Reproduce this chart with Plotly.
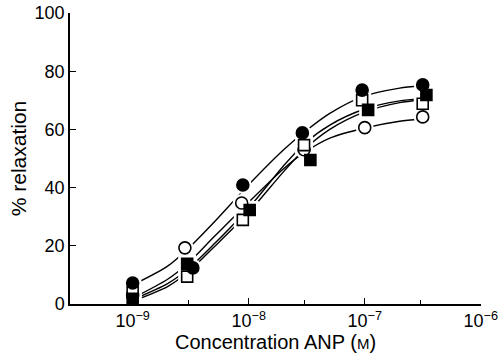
import plotly.graph_objects as go

conc_filled_circle = [1.0e-9, 3.3e-9, 8.9e-9, 2.9e-8, 9.5e-8, 3.16e-7]
relax_filled_circle = [7.2, 12.4, 40.9, 58.8, 73.5, 75.3]

conc_open_circle = [1.0e-9, 2.82e-9, 8.7e-9, 3.0e-8, 1.0e-7, 3.16e-7]
relax_open_circle = [3.0, 19.3, 34.7, 53.0, 60.6, 64.3]

conc_open_square = [1.0e-9, 2.95e-9, 8.9e-9, 3.0e-8, 9.5e-8, 3.16e-7]
relax_open_square = [4.0, 9.4, 28.9, 54.6, 70.0, 68.8]

conc_filled_square = [1.0e-9, 2.95e-9, 1.02e-8, 3.4e-8, 1.07e-7, 3.4e-7]
relax_filled_square = [1.8, 13.8, 32.3, 49.5, 66.7, 71.8]

# Fitted curves, values
curve_conc = [1e-9, 2e-9, 3e-9, 5e-9, 1e-8, 2e-8, 3e-8, 5e-8, 1e-7, 2e-7, 3e-7]
curve_filled_circle = [6.5, 13.0, 19.0, 28.0, 41.0, 53.0, 59.0, 65.5, 71.5, 74.2, 75.0]
curve_open_circle = [2.0, 8.5, 14.0, 23.0, 35.0, 46.5, 52.0, 57.0, 60.5, 62.8, 63.5]
curve_open_square = [1.5, 7.0, 12.0, 20.5, 33.0, 47.5, 55.0, 61.5, 67.0, 69.8, 70.5]
curve_filled_square = [1.0, 6.0, 11.0, 19.5, 31.5, 45.5, 53.0, 60.0, 66.0, 69.2, 70.0]

x_tick_vals = [1e-9, 1e-8, 1e-7, 1e-6]
x_tick_text = ["10<sup>\u22129</sup>", "10<sup>\u22128</sup>", "10<sup>\u22127</sup>", "10<sup>\u22126</sup>"]
x_minor_vals = [3e-9, 3e-8, 3e-7]
y_tick_vals = [0, 20, 40, 60, 80, 100]

series = [
    (conc_open_circle, relax_open_circle, curve_open_circle, "circle", "white"),
    (conc_open_square, relax_open_square, curve_open_square, "square", "white"),
    (conc_filled_square, relax_filled_square, curve_filled_square, "square", "black"),
    (conc_filled_circle, relax_filled_circle, curve_filled_circle, "circle", "black"),
]

FONT = "Liberation Sans, Arial, Helvetica, sans-serif"
fig = go.Figure()

for xs, ys, cy, sym, fill in series:
    fig.add_trace(go.Scatter(x=curve_conc, y=cy, mode="lines",
                             line=dict(color="black", width=1.4, shape="spline", smoothing=0.8),
                             hoverinfo="skip", showlegend=False))
for xs, ys, cy, sym, fill in series:
    fig.add_trace(go.Scatter(x=xs, y=ys, mode="markers",
                             marker=dict(symbol=sym, size=18, color="white", line=dict(width=0)),
                             hoverinfo="skip", showlegend=False))
for xs, ys, cy, sym, fill in series:
    fig.add_trace(go.Scatter(x=xs, y=ys, mode="markers",
                             marker=dict(symbol=sym, size=12 if sym == "circle" else 11,
                                         color=fill, line=dict(color="black", width=1.6)),
                             showlegend=False))

fig.update_layout(
    width=503, height=361,
    margin=dict(l=70, r=22, t=13, b=57),
    paper_bgcolor="white", plot_bgcolor="white",
    font=dict(family=FONT, color="black", size=17),
    showlegend=False,
)
fig.update_xaxes(
    type="log", range=[-9.54, -5.998], automargin=False,
    tickmode="array", tickvals=x_tick_vals, ticktext=x_tick_text,
    ticks="inside", ticklen=6, tickwidth=1.2, tickcolor="black",
    showline=True, linecolor="black", linewidth=1.5,
    showgrid=False, zeroline=False,
    tickfont=dict(size=18),
    minor=dict(tickvals=x_minor_vals, ticks="inside", ticklen=4, tickwidth=1.2,
               tickcolor="black", showgrid=False),
    title=dict(text="Concentration ANP (<span style='font-size:15px'>M</span>)",
               font=dict(size=20), standoff=3),
)
fig.update_yaxes(
    range=[0, 100], automargin=False, tickvals=y_tick_vals,
    ticks="inside", ticklen=6, tickwidth=1.2, tickcolor="black",
    showline=True, linecolor="black", linewidth=1.5,
    showgrid=False, zeroline=False,
    tickfont=dict(size=18),
    title=dict(text="% relaxation", font=dict(size=21), standoff=2),
)

fig.write_html("out.html",
               config={"displayModeBar": False},
               post_script="document.body.style.margin='0';document.body.style.overflow='hidden';")
